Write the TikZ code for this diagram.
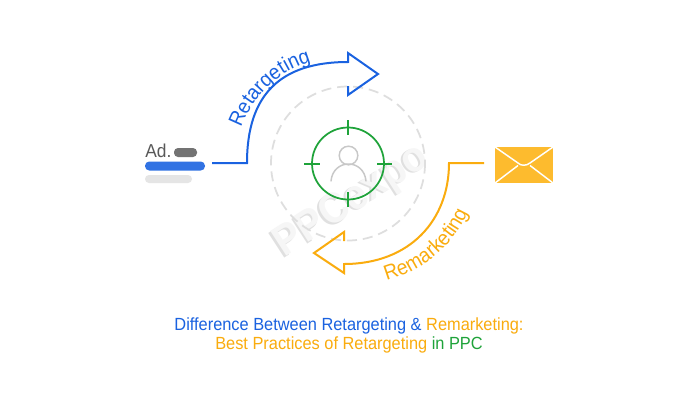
\documentclass[tikz,border=0pt]{standalone}
\usepackage{fontspec}
\setmainfont[FakeStretch=0.93]{Liberation Sans}
\usetikzlibrary{decorations.text}
\definecolor{bluec}{HTML}{1A62E0}
\definecolor{orangec}{HTML}{FAAC0E}
\definecolor{greenc}{HTML}{1FA33A}
\definecolor{envc}{HTML}{FDBB2E}
\definecolor{personc}{HTML}{C8C8C8}
\definecolor{dashc}{HTML}{DEDEDE}
\definecolor{wmtop}{HTML}{F6F6F6}
\definecolor{wmshadow}{HTML}{E0E0E0}
\tikzset{
  px/.style={x=0.75pt,y=-0.75pt},
  arrowblue/.style={draw=bluec,line width=1.5pt,line join=miter},
  arroworange/.style={draw=orangec,line width=1.5pt,line join=miter},
  crossmark/.style={draw=greenc,line width=1.3pt},
  person/.style={draw=personc,line width=1.1pt},
  titletext/.style={font=\fontsize{13.2pt}{18pt}\selectfont,inner sep=0pt},
  wm/.style={font=\fontsize{32pt}{32pt}\selectfont\bfseries,rotate=33,inner sep=0pt},
}
\begin{document}
\begin{tikzpicture}[px]
\useasboundingbox (0,0) rectangle (698,400);
\fill[white] (0,0) rectangle (698,400);
% watermark
\node[wm,text=wmshadow] (wmb) at (350.3,203.2) {PPCexpo};
\node[wm,text=wmtop] (wmt) at (352,201.5) {PPCexpo};
% dashed ring
\draw[dashc,line width=1.3pt,dash pattern=on 7.5pt off 4.5pt] (348,163.5) circle (77);
% target
\coordinate (c) at (348,163.5);
\draw[greenc,line width=1.3pt] (c) circle (36);
\draw[crossmark] (348,120)--(348,135) (348,192)--(348,207);
\draw[crossmark] (304,164)--(320,164) (377,164)--(392,164);
% person
\draw[person] (348.5,155.5) circle (9.3);
\draw[person,line cap=round] (331,181) .. controls (332,170) and (340,164) .. (348.5,164) .. controls (357,164) and (365,170) .. (366,181);
% blue arrow
\coordinate (bs) at (212,163);
\coordinate (bc) at (247,163);
\coordinate (be) at (348,62);
\draw[arrowblue] (bs)--(bc) .. controls (247,95) and (280,62) .. (be) -- (348,53) -- (378,74) -- (348,95) -- (348,86);
\path[decorate,decoration={text along path,text color=bluec,text align=center,
  text={|\fontsize{15.6pt}{16pt}\selectfont|Retargeting}}]
  (241,128) .. controls (253,97) and (276,72) .. (311,62);
% orange arrow
\coordinate (os) at (484,163);
\coordinate (oc) at (449,163);
\coordinate (oe) at (344,264);
\draw[arroworange] (os)--(oc) .. controls (449,220) and (410,264) .. (oe) -- (344,273) -- (314,253) -- (344,232) -- (344,241);
\path[decorate,decoration={text along path,text color=orangec,text align=center,
  text={|\fontsize{15.6pt}{16pt}\selectfont|Remarketing}}]
  (382,282) .. controls (420,272) and (452,250) .. (470,208);
% ad
\node[anchor=base west,inner sep=0pt,text=black!65,font=\fontsize{14pt}{15pt}\selectfont] (adt) at (145,157) {Ad.};
\node[fill=black!55,rounded corners=3pt,minimum width=17.25pt,minimum height=6.75pt,inner sep=0pt] (p1) at (185.5,152.5) {};
\node[fill=bluec!90,rounded corners=3.2pt,minimum width=45pt,minimum height=6.75pt,inner sep=0pt] (p2) at (175,166) {};
\node[fill=black!10,rounded corners=3pt,minimum width=35.25pt,minimum height=6pt,inner sep=0pt] (p3) at (168.5,179) {};
% envelope
\node[fill=envc,minimum width=43.5pt,minimum height=27pt,inner sep=0pt] (env) at (524,165) {};
\draw[white,line width=1.1pt] (495,147) -- (518,163) .. controls (521,166) and (526,166) .. (530,163) -- (553,147);
\draw[white,line width=1.1pt] (495,183) -- (518,165.5);
\draw[white,line width=1.1pt] (553,183) -- (530,165.5);
% title
\node[titletext] (t1) at (349,325.5) {\textcolor{bluec}{Difference Between Retargeting \& }\textcolor{orangec}{Remarketing:}};
\node[titletext] (t2) at (349,345) {\textcolor{orangec}{Best Practices of Retargeting }\textcolor{greenc}{in PPC}};
\end{tikzpicture}
\end{document}
